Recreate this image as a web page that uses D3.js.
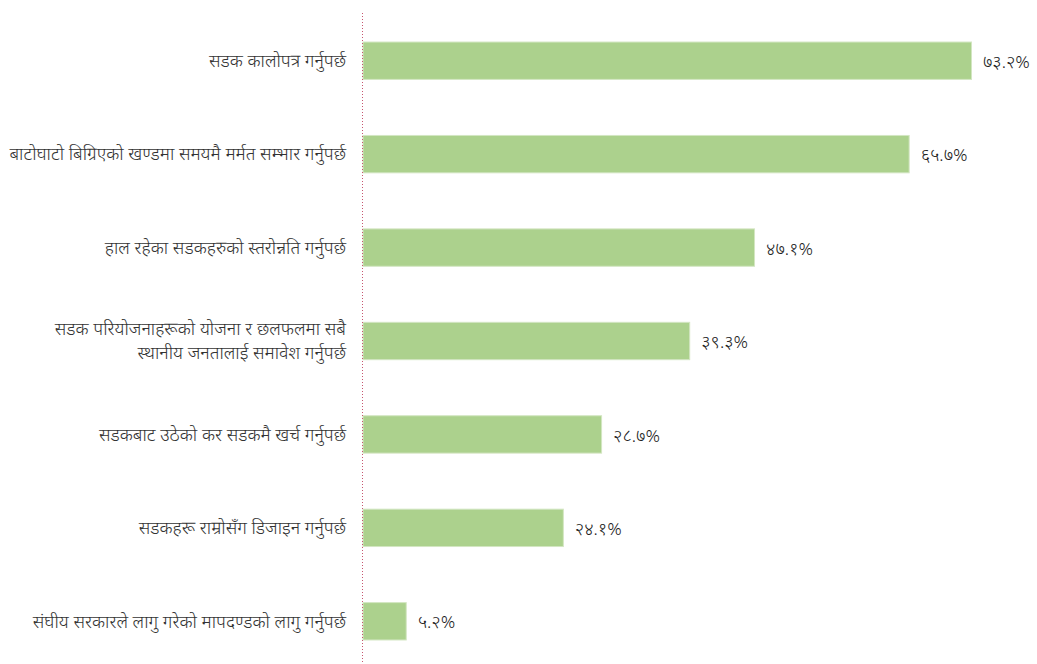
<!DOCTYPE html>
<html><head><meta charset="utf-8">
<script src="https://cdn.jsdelivr.net/npm/d3@7"></script>
<style>
html,body{margin:0;padding:0;background:#fff;}
text{font-family:"Noto Sans Devanagari","Lohit Devanagari","Mukta","Noto Sans","DejaVu Sans",sans-serif;}
</style></head>
<body><svg id="c" width="1037" height="664"></svg>
<script>
const categories = [
  ["सडक कालोपत्र गर्नुपर्छ"],
  ["बाटोघाटो बिग्रिएको खण्डमा समयमै मर्मत सम्भार गर्नुपर्छ"],
  ["हाल रहेका सडकहरुको स्तरोन्नति गर्नुपर्छ"],
  ["सडक परियोजनाहरूको योजना र छलफलमा सबै", "स्थानीय जनतालाई समावेश गर्नुपर्छ"],
  ["सडकबाट उठेको कर सडकमै खर्च गर्नुपर्छ"],
  ["सडकहरू राम्रोसँग डिजाइन गर्नुपर्छ"],
  ["संघीय सरकारले लागु गरेको मापदण्डको लागु गर्नुपर्छ"]
];
const values = [73.2, 65.7, 47.1, 39.3, 28.7, 24.1, 5.2];
const devDigits = ["०","१","२","३","४","५","६","७","८","९"];

const svg = d3.select("#c");
const x0 = 362.5;
const x = d3.scaleLinear().domain([0, 73.2]).range([x0, 971]);
const y = d3.scaleBand().domain(d3.range(values.length)).range([14, 668]).paddingInner(0.6).paddingOuter(0.3);

const toDev = v => v.toFixed(1).replace(/[0-9]/g, d => devDigits[+d]) + "%";

svg.selectAll("rect.bar").data(values).join("rect")
  .attr("class","bar")
  .attr("x", x(0)+0.5)
  .attr("y", (d,i)=>y(i))
  .attr("width", d=>x(d)-x(0))
  .attr("height", y.bandwidth())
  .attr("fill","#acd18d")
  .attr("stroke","#d3e6c2")
  .attr("stroke-width",1);

svg.append("line")
  .attr("x1", x0).attr("x2", x0)
  .attr("y1", 13).attr("y2", 664)
  .attr("stroke","#c7566f").attr("stroke-width",1)
  .attr("stroke-dasharray","1,2");

svg.selectAll("text.val").data(values).join("text")
  .attr("class","val")
  .attr("x", d=>x(d)+12)
  .attr("y", (d,i)=>y(i)+y.bandwidth()/2)
  .attr("dy","0.4em")
  .attr("font-size",18)
  .attr("font-weight",300)
  .attr("fill","#222")
  .text(d=>toDev(d));

const lab = svg.selectAll("text.lab").data(categories).join("text")
  .attr("class","lab")
  .attr("text-anchor","end")
  .attr("font-size",18)
  .attr("font-weight",300)
  .attr("fill","#333")
  .attr("x", 346)
  .attr("y", (d,i)=>y(i)+y.bandwidth()/2);
lab.each(function(lines){
  const t = d3.select(this);
  const n = lines.length;
  lines.forEach((s,j)=>{
    t.append("tspan").attr("x",346)
     .attr("dy", j===0 ? (0.35 - (n-1)*0.68)+"em" : "1.35em")
     .text(s);
  });
});
</script></body></html>
